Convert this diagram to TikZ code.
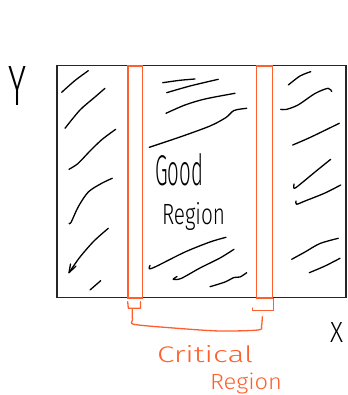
\documentclass[tikz,border=0pt]{standalone}
\usepackage{fontspec}
\setmainfont{Carlito}
\newfontfamily\handfont{Fira Sans Light}
\usepackage{graphicx}
\definecolor{markorange}{RGB}{255,95,45}
\tikzset{
  frameline/.style={draw=black!85, line width=1.8pt},
  stripline/.style={draw=markorange, line width=1.6pt},
  bracketline/.style={draw=markorange, line width=1.3pt, line cap=round, line join=round},
  hatch/.style={draw=black, line width=1.3pt, line cap=round, line join=round},
  handtext/.style={anchor=north west, inner sep=0pt, outer sep=0pt, font=\handfont},
}
\begin{document}
\begin{tikzpicture}[x=1pt, y=-1pt]
  \useasboundingbox (0,0) rectangle (347,395);

  % outer domain
  \draw[frameline] (57,65.5) rectangle (346,297.5);

  % hatching, left band
  \draw[hatch] plot[smooth] coordinates {(61.7,92.3) (75,80.5) (88.3,70.7)};
  \draw[hatch] plot[smooth] coordinates {(65,128.3) (80,110) (95,97) (105,88.3)};
  \draw[hatch] plot[smooth] coordinates {(69,169.3) (78,163.5) (90,151) (102,139.5) (115.7,129.3)};
  \draw[hatch] plot[smooth] coordinates {(69,223.3) (71,222.5) (78.3,206.7) (88.3,192) (101.7,183.3) (112.3,178.3)};
  \draw[hatch] plot[smooth] coordinates {(69,272.7) (80,257) (94,241) (108.3,228.3)};
  \draw[hatch] (70.5,264) -- (69,272.7) -- (76,266);
  \draw[hatch] (90,290) -- (100.7,280.7);

  % hatching, middle band
  \draw[hatch] plot[smooth] coordinates {(162.7,82.7) (180,80.3) (195,79)};
  \draw[hatch] plot[smooth] coordinates {(166.7,92.7) (190,86) (218.3,79.3)};
  \draw[hatch] plot[smooth] coordinates {(166,113.3) (185,105) (205,99) (235,93.3)};
  \draw[hatch] plot[smooth] coordinates {(149.3,147.3) (180,137) (210,126) (226,117.5) (234,110.5) (246.7,108.3)};
  \draw[hatch] plot[smooth] coordinates {(150,265.5) (149.3,268.8) (156,266.5) (185,252) (210,242) (226,237.3)};
  \draw[hatch] plot[smooth] coordinates {(177,276.5) (173.3,279.3) (181,278.5) (200,268) (220,258) (234,249.3)};
  \draw[hatch] plot[smooth] coordinates {(210,286.7) (225,282) (234,277.5) (240,277) (246.7,272.7)};

  % hatching, right band
  \draw[hatch] plot[smooth] coordinates {(288.3,85) (300,76) (310.7,71.7)};
  \draw[hatch] plot[smooth] coordinates {(280.7,109.3) (286,109.5) (298,105) (315,93.5) (328,88.3) (331.7,91.5)};
  \draw[hatch] plot[smooth] coordinates {(292.7,145) (310,137.5) (339.3,123.3)};
  \draw[hatch] plot[smooth] coordinates {(294,184) (294,188.3) (298,186) (315,172) (330.7,159.3)};
  \draw[hatch] plot[smooth] coordinates {(296,201) (296.5,204.3) (305,201) (325,193) (340.7,185)};
  \draw[hatch] plot[smooth] coordinates {(291.7,259.3) (305,252) (320,243.5) (338.3,238.3)};
  \draw[hatch] plot[smooth] coordinates {(309.3,272.7) (325,266) (340,258.3)};

  % critical strips
  \draw[stripline] (128,66) rectangle (142.5,298);
  \draw[stripline] (256.5,66) rectangle (272.3,298);

  % bracket under the strips
  \draw[bracketline] (127.7,301.7) -- (128.3,308.3) -- (140.5,308.3) -- (140.5,301.7);
  \draw[bracketline] (252.7,308) -- (252.7,310.8) -- (273.3,310.8) -- (273.3,298.5);
  \draw[bracketline] plot[smooth] coordinates {(132.3,309.3) (132.5,320) (135,324.5) (180,328.5) (220,331) (258,330) (261.5,326) (262.3,316.7)};

  % labels
  \node[handtext] (ylabel) at (8,66) {\resizebox{18pt}{39pt}{Y}};
  \node[handtext] (xlabel) at (330,322) {\resizebox{13pt}{20pt}{X}};
  \node[handtext] (goodword) at (155,153) {\resizebox{48pt}{32pt}{Good}};
  \node[handtext] (goodregion) at (162,202) {\resizebox*{63pt}{28pt}{Region}};
  \node[handtext, text=markorange] (critword) at (157,345) {\resizebox{96pt}{17pt}{Critical}};
  \node[handtext, text=markorange] (critregion) at (210,373) {\resizebox*{72pt}{21pt}{Region}};
\end{tikzpicture}
\end{document}
